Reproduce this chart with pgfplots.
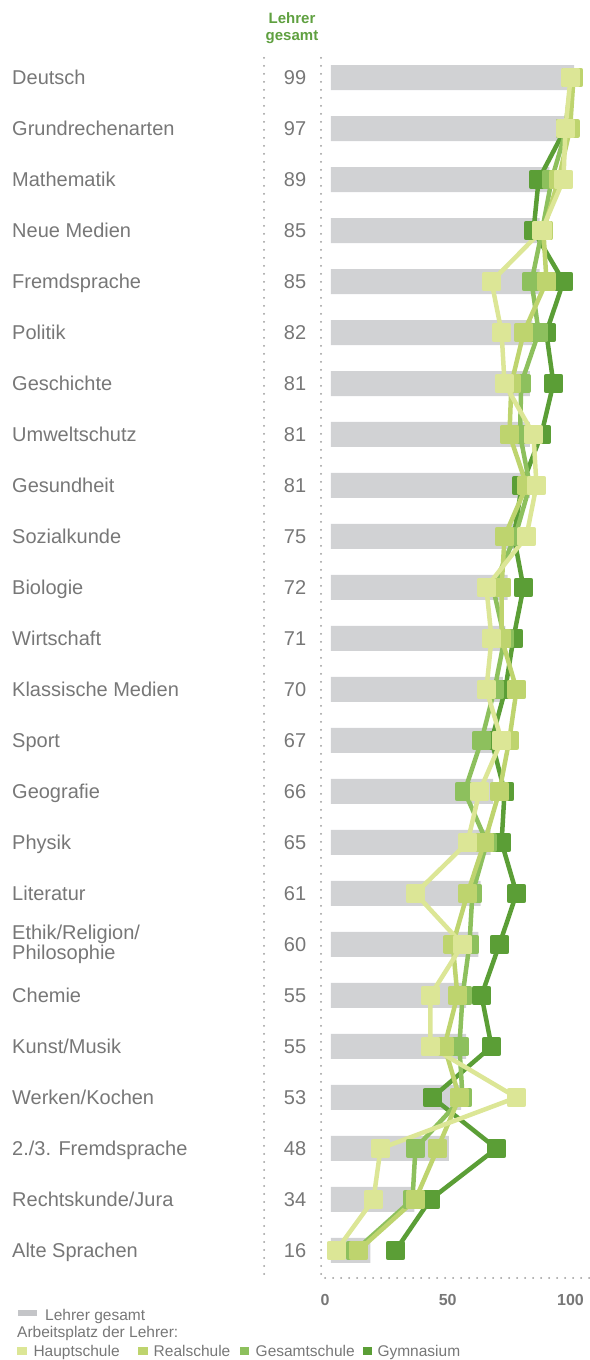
\documentclass[border=0pt]{standalone}
\usepackage{fontspec}
\setmainfont{Liberation Sans}
\usepackage{pgfplots}
\usepackage{pgfplotstable}
\pgfplotsset{compat=1.18}

\definecolor{bargray}{HTML}{D1D2D4}
\definecolor{leggray}{HTML}{C4C5C8}
\definecolor{labgray}{HTML}{777777}
\definecolor{dotgray}{HTML}{9A9A9A}
\definecolor{hdrgreen}{HTML}{5FA040}
\definecolor{cHaupt}{HTML}{DCE696}
\definecolor{cReal}{HTML}{BED46E}
\definecolor{cGes}{HTML}{8DC05D}
\definecolor{cGym}{HTML}{5B9E36}

% name left, teacher total right
\newcommand{\lab}[2]{\hbox to 294pt{#1\hfil #2}}
\newcommand{\labb}[3]{\hbox to 294pt{\raisebox{-8pt}{\parbox[b]{200pt}{\fontsize{20}{15.5}\selectfont #1\\#2}}\hfil #3}}

% row, Lehrer gesamt, Hauptschule, Realschule, Gesamtschule, Gymnasium
\pgfplotstableread{
row bar haupt real ges gym
0  99 97.6 98.8 98.0 98.0
1  97 95.5 97.4 96.0 95.5
2  89 94.7 92.7 89.9 84.6
3  85 85.9 86.5 86.0 82.5
4  85 65.4 87.8 81.7 94.7
5  82 69.5 78.5 84.6 87.7
6  81 70.7 73.5 77.5 90.6
7  81 82.5 72.7 77.0 85.7
8  81 83.7 79.7 81.0 77.7
9  75 79.6 70.7 75.0 74.5
10 72 63.3 69.5 66.0 78.4
11 71 65.4 69.5 70.7 74.3
12 70 63.3 75.6 66.6 71.0
13 67 69.5 72.6 61.3 65.4
14 66 60.5 68.6 54.4 70.7
15 65 55.6 62.5 63.5 69.5
16 61 34.4 55.6 57.6 75.6
17 60 53.6 49.6 56.4 68.6
18 55 40.5 51.5 53.6 61.3
19 55 40.5 46.2 52.3 65.4
20 53 75.6 52.3 53.6 41.3
21 48 20.2 43.4 34.4 67.4
22 34 17.3 34.4 33.2 40.5
23 16 2.2  11.2 10.0 26.3
}\datatable

\begin{document}
\begin{tikzpicture}[x=1pt,y=1pt,
  dotline/.style={dotgray, line width=2pt, line cap=round, dash pattern=on 0pt off 8pt},
  series/.style={#1, line width=4.5pt, line join=round, mark=square*, mark size=7.5pt,
    mark options={draw=none, fill=#1}}]
\useasboundingbox (0,0) rectangle (589,1360);

\begin{axis}[
  at={(321pt,82pt)}, anchor=south west,
  scale only axis, width=268pt, height=1220pt,
  xmin=-4.07, xmax=105.1,
  ymin=-0.382, ymax=23.54, y dir=reverse,
  axis line style={draw=none},
  major tick length=0pt,
  clip=false,
  /pgf/number format/assume math mode=true,
  xtick={0,50,100},
  xticklabel style={font=\bfseries\fontsize{16}{16}\selectfont, text=labgray,
    anchor=north, inner sep=0pt, yshift=-16pt, xshift=-6pt},
  ytick={0,...,23},
  yticklabel style={font=\fontsize{20}{24}\selectfont, text=labgray,
    anchor=base west, inner sep=0pt, xshift=-309pt, yshift=-7pt},
  yticklabels={
    {\lab{Deutsch}{99}},
    {\lab{Grundrechenarten}{97}},
    {\lab{Mathematik}{89}},
    {\lab{Neue Medien}{85}},
    {\lab{Fremdsprache}{85}},
    {\lab{Politik}{82}},
    {\lab{Geschichte}{81}},
    {\lab{Umweltschutz}{81}},
    {\lab{Gesundheit}{81}},
    {\lab{Sozialkunde}{75}},
    {\lab{Biologie}{72}},
    {\lab{Wirtschaft}{71}},
    {\lab{Klassische Medien}{70}},
    {\lab{Sport}{67}},
    {\lab{Geografie}{66}},
    {\lab{Physik}{65}},
    {\lab{Literatur}{61}},
    {\labb{Ethik/Religion/}{Philosophie}{60}},
    {\lab{Chemie}{55}},
    {\lab{Kunst/Musik}{55}},
    {\lab{Werken/Kochen}{53}},
    {\lab{2./3. Fremdsprache}{48}},
    {\lab{Rechtskunde/Jura}{34}},
    {\lab{Alte Sprachen}{16}}},
]
\addplot[xbar, bar width=25pt, bar shift=0pt, fill=bargray, draw=none]
  table[x=bar, y=row] {\datatable};
\addplot[series=cGym]  table[x=gym,   y=row] {\datatable};
\addplot[series=cGes]  table[x=ges,   y=row] {\datatable};
\addplot[series=cReal] table[x=real,  y=row] {\datatable};
\addplot[series=cHaupt] table[x=haupt, y=row] {\datatable};
\end{axis}

% dotted guides
\draw[dotline] (264,1302) -- (264,83);
\draw[dotline] (321,1302) -- (321,82) -- (589,82);

% column header
\node[font=\bfseries\fontsize{15}{17}\selectfont, text=hdrgreen, anchor=base, inner sep=0pt] at (292,1336.7) {Lehrer};
\node[font=\bfseries\fontsize{15}{17}\selectfont, text=hdrgreen, anchor=base, inner sep=0pt] at (292,1319.5) {gesamt};

% legend
\begin{scope}[every node/.style={font=\fontsize{15.5}{18}\selectfont, text=labgray, anchor=base west, inner sep=0pt}]
\fill[leggray] (18,44) rectangle (37,50);
\node at (45,39.5) {Lehrer gesamt};
\node at (17,23) {Arbeitsplatz der Lehrer:};
\fill[cHaupt] (17.3,4.7) rectangle (26.7,13.3);
\node at (33.3,3.5) {Hauptschule};
\fill[cReal] (138.3,4.7) rectangle (147.7,13.3);
\node at (153.5,3.5) {Realschule};
\fill[cGes] (240,4.7) rectangle (249.4,13.3);
\node at (255.5,3.5) {Gesamtschule};
\fill[cGym] (362.7,4.7) rectangle (372.1,13.3);
\node at (377.3,3.5) {Gymnasium};
\end{scope}
\end{tikzpicture}
\end{document}
